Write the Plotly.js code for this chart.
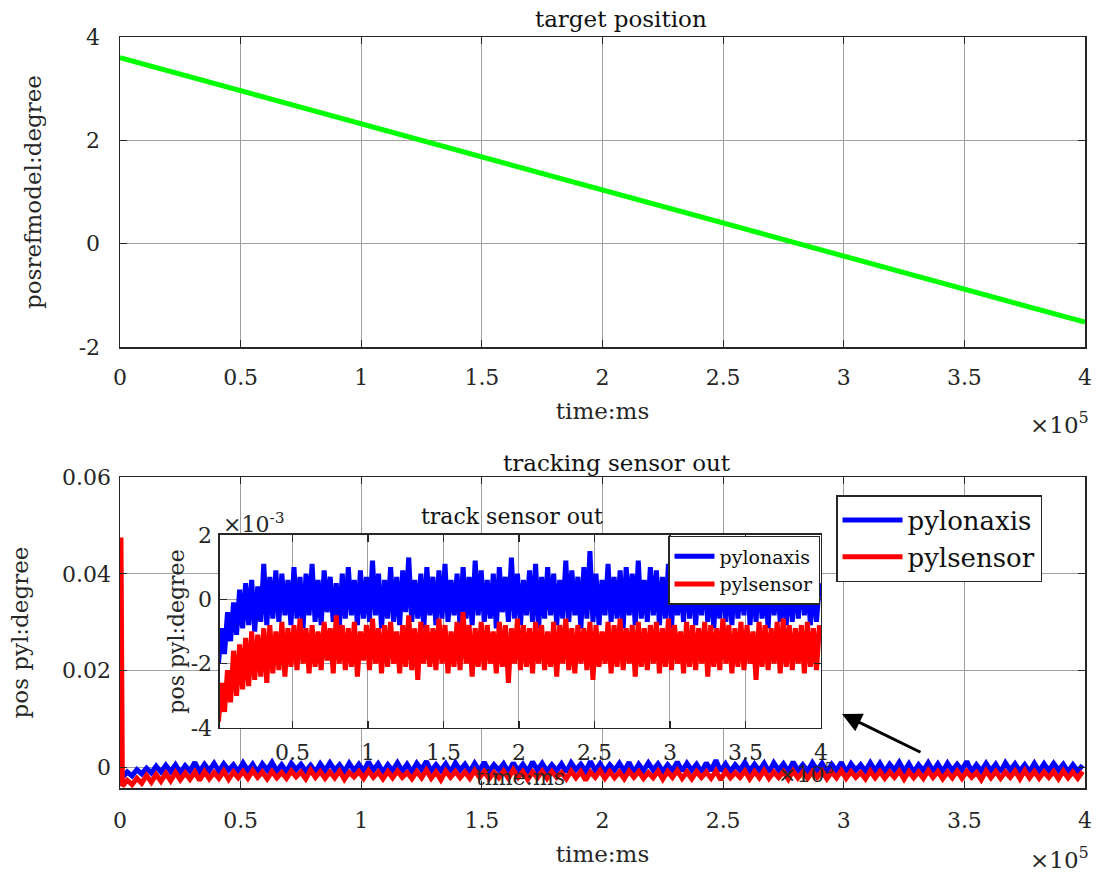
<!DOCTYPE html>
<html>
<head>
<meta charset="utf-8">
<script src="https://cdn.plot.ly/plotly-3.0.1.min.js"></script>
<style>html,body{margin:0;padding:0;background:#fff;}#chart{width:1096px;height:877px;}</style>
</head>
<body>
<div id="chart"></div>
<script>
// time in units of 1e5 ms
const timeE5 = [
0.01,0.03,0.05,0.07,0.09,0.11,0.13,0.15,0.17,0.19,
0.21,0.23,0.25,0.27,0.29,0.31,0.33,0.35,0.37,0.39,
0.41,0.43,0.45,0.47,0.49,0.51,0.53,0.55,0.57,0.59,
0.61,0.63,0.65,0.67,0.69,0.71,0.73,0.75,0.77,0.79,
0.81,0.83,0.85,0.87,0.89,0.91,0.93,0.95,0.97,0.99,
1.01,1.03,1.05,1.07,1.09,1.11,1.13,1.15,1.17,1.19,
1.21,1.23,1.25,1.27,1.29,1.31,1.33,1.35,1.37,1.39,
1.41,1.43,1.45,1.47,1.49,1.51,1.53,1.55,1.57,1.59,
1.61,1.63,1.65,1.67,1.69,1.71,1.73,1.75,1.77,1.79,
1.81,1.83,1.85,1.87,1.89,1.91,1.93,1.95,1.97,1.99,
2.01,2.03,2.05,2.07,2.09,2.11,2.13,2.15,2.17,2.19,
2.21,2.23,2.25,2.27,2.29,2.31,2.33,2.35,2.37,2.39,
2.41,2.43,2.45,2.47,2.49,2.51,2.53,2.55,2.57,2.59,
2.61,2.63,2.65,2.67,2.69,2.71,2.73,2.75,2.77,2.79,
2.81,2.83,2.85,2.87,2.89,2.91,2.93,2.95,2.97,2.99,
3.01,3.03,3.05,3.07,3.09,3.11,3.13,3.15,3.17,3.19,
3.21,3.23,3.25,3.27,3.29,3.31,3.33,3.35,3.37,3.39,
3.41,3.43,3.45,3.47,3.49,3.51,3.53,3.55,3.57,3.59,
3.61,3.63,3.65,3.67,3.69,3.71,3.73,3.75,3.77,3.79,
3.81,3.83,3.85,3.87,3.89,3.91,3.93,3.95,3.97,3.99
];
// pylonaxis, units of 1e-3 degree
const pylonaxis = [
-2.0,-0.9,-1.7,-0.4,-1.3,-0.1,-1.1,0.3,-0.9,0.5,
-0.8,0.6,-1.0,0.4,-0.7,1.1,-0.8,0.7,-0.6,0.9,
-0.7,0.8,-0.5,0.6,-0.8,1.0,-0.6,0.7,-0.9,0.8,
-0.5,1.1,-0.7,0.6,-0.8,0.9,-0.4,0.7,-0.7,0.5,
-0.9,0.8,-0.6,1.0,-0.5,0.6,-0.8,0.9,-0.6,0.7,
-0.7,1.2,-0.5,0.8,-0.9,0.6,-0.6,1.0,-0.7,0.7,
-0.8,0.9,-0.4,1.3,-0.7,0.6,-0.6,0.8,-0.9,1.0,
-0.5,0.7,-0.8,0.9,-0.6,1.1,-0.7,0.6,-0.5,0.8,
-0.9,1.0,-0.6,0.7,-0.8,1.2,-0.5,0.9,-0.7,0.6,
-0.6,0.8,-0.9,1.0,-0.4,0.7,-0.7,1.3,-0.6,0.8,
-0.8,0.6,-0.5,0.9,-0.7,1.1,-0.9,0.7,-0.6,1.0,
-0.5,0.8,-0.8,0.6,-0.6,1.2,-0.7,0.9,-0.5,0.7,
-0.9,1.0,-0.6,1.5,-0.7,0.8,-0.8,0.6,-0.5,1.1,
-0.7,0.7,-0.6,0.9,-0.9,1.0,-0.5,0.8,-0.8,1.2,
-0.6,0.6,-0.7,1.0,-0.5,0.9,-0.8,0.7,-0.6,1.1,
-0.9,0.8,-0.5,0.6,-0.7,1.0,-0.6,0.9,-0.8,0.7,
-0.5,1.1,-0.7,0.8,-0.9,0.6,-0.6,1.0,-0.7,0.8,
-0.8,0.9,-0.6,0.7,-0.5,1.3,-0.8,0.6,-0.7,0.9,
-0.6,0.7,-0.9,1.0,-0.5,0.8,-0.7,0.6,-0.8,0.9,
-0.7,0.8,-0.6,0.9,-0.5,0.7,-0.8,0.6,-0.7,0.5
];
// pylsensor, units of 1e-3 degree
const pylsensor = [
-3.8,-2.6,-3.5,-2.2,-3.2,-1.6,-3.0,-1.4,-2.8,-1.2,
-2.7,-1.0,-2.5,-1.1,-2.4,-0.9,-2.6,-0.8,-2.3,-1.0,
-2.2,-0.7,-2.4,-0.9,-2.1,-0.8,-2.2,-0.6,-2.0,-0.9,
-2.3,-0.8,-2.1,-1.0,-2.2,-0.7,-1.9,-0.9,-2.3,-0.5,
-2.0,-0.8,-2.2,-0.9,-2.1,-0.7,-2.4,-1.0,-1.9,-0.8,
-2.2,-0.6,-2.0,-0.9,-2.3,-0.8,-2.1,-0.7,-2.0,-1.0,
-2.3,-0.8,-2.1,-0.5,-2.2,-0.9,-2.5,-0.7,-2.0,-0.8,
-2.1,-0.9,-2.2,-0.6,-2.0,-0.8,-2.3,-1.0,-2.1,-0.7,
-2.2,-0.4,-2.0,-0.8,-2.4,-0.9,-2.1,-0.7,-2.2,-0.8,
-2.0,-1.0,-2.3,-0.7,-2.1,-0.8,-2.6,-0.9,-2.0,-0.6,
-2.2,-0.8,-2.1,-0.9,-2.3,-0.7,-2.0,-0.8,-2.2,-1.0,
-2.1,-0.7,-2.4,-0.8,-2.0,-0.6,-2.2,-0.9,-2.3,-0.8,
-2.0,-0.9,-2.2,-0.7,-2.5,-0.8,-2.1,-1.0,-2.0,-0.7,
-2.3,-0.8,-2.1,-0.6,-2.2,-0.9,-2.0,-0.8,-2.4,-0.7,
-2.1,-0.9,-2.2,-0.8,-2.0,-0.7,-2.3,-0.9,-2.1,-0.6,
-2.2,-0.8,-2.0,-1.0,-2.3,-0.7,-2.1,-0.8,-2.2,-0.9,
-2.0,-0.7,-2.4,-0.8,-2.1,-0.9,-2.2,-0.6,-2.0,-0.8,
-2.3,-0.9,-2.1,-0.7,-2.2,-0.8,-2.0,-1.0,-2.5,-0.7,
-2.1,-0.8,-2.2,-0.9,-2.0,-0.7,-2.3,-0.6,-2.1,-0.8,
-2.2,-0.9,-2.0,-0.8,-2.3,-0.7,-2.1,-0.9,-2.2,-0.8
];
// initial transient of pylsensor (before the steady record), units of 1e-3 degree
const spikeTime = [0.004, 0.007];
const spikeSensor = [47.5, 22.0];
// target position
const refTime = [0, 4];
const posRef = [3.6, -1.52];
// tick labels (hyphen minus as in the reference)
const refTickVals = [-2, 0, 2, 4];
const refTickText = ['-2', '0', '2', '4'];
const insetTickVals = [-4, -2, 0, 2];
const insetTickText = ['-4', '-2', '0', '2'];

const FONT = 'DejaVu Serif, serif';
const AX = '#262626';
const GRID = '#a0a0a0';

function axisBase(extra) {
  return Object.assign({
    showline: true, linecolor: AX, linewidth: 1.5, mirror: 'ticks',
    ticks: 'inside', ticklen: 7, tickcolor: AX, tickwidth: 1.2,
    showgrid: true, gridcolor: GRID, gridwidth: 1, zeroline: false,
    tickfont: {family: FONT, size: 22, color: '#262626'},
    automargin: false
  }, extra);
}

const toDeg = v => v / 1000;

const traces = [
  {x: refTime, y: posRef, xaxis: 'x', yaxis: 'y', mode: 'lines',
   line: {color: '#00ff00', width: 5}, showlegend: false, name: 'posrefmodel'},
  {x: timeE5, y: pylonaxis.map(toDeg), xaxis: 'x2', yaxis: 'y2', mode: 'lines',
   line: {color: '#0000ff', width: 5, simplify: false}, name: 'pylonaxis', legend: 'legend'},
  {x: spikeTime.concat(timeE5), y: spikeSensor.concat(pylsensor).map(toDeg), xaxis: 'x2', yaxis: 'y2', mode: 'lines',
   line: {color: '#ff0000', width: 5, simplify: false}, name: 'pylsensor', legend: 'legend'},
  {x: timeE5, y: pylonaxis, xaxis: 'x3', yaxis: 'y3', mode: 'lines',
   line: {color: '#0000ff', width: 5, simplify: false}, name: 'pylonaxis', legend: 'legend2'},
  {x: timeE5, y: pylsensor, xaxis: 'x3', yaxis: 'y3', mode: 'lines',
   line: {color: '#ff0000', width: 5, simplify: false}, name: 'pylsensor', legend: 'legend2'}
];

const layout = {
  width: 1096, height: 877,
  margin: {l: 120, r: 11, t: 37, b: 89},
  paper_bgcolor: '#ffffff', plot_bgcolor: '#ffffff',
  font: {family: FONT, color: '#262626'},
  title: {text: 'target position', font: {family: FONT, size: 23, color: '#111'},
          xref: 'paper', x: 0.519, xanchor: 'center', yref: 'container', y: 0.978, yanchor: 'middle'},
  xaxis: axisBase({domain: [0, 1], anchor: 'y', range: [0, 4], dtick: 0.5, tick0: 0,
    ticklabelstandoff: 10,
    title: {text: 'time:ms', font: {family: FONT, size: 23, color: '#262626'}, standoff: 14}}),
  yaxis: axisBase({domain: [0.5872, 1], anchor: 'x', range: [-2, 4],
    tickmode: 'array', tickvals: refTickVals, ticktext: refTickText,
    ticklabelstandoff: 14,
    title: {text: 'posrefmodel:degree', font: {family: FONT, size: 23, color: '#262626'}, standoff: 30}}),
  xaxis2: axisBase({domain: [0, 1], anchor: 'y2', range: [0, 4], dtick: 0.5, tick0: 0,
    ticklabelstandoff: 12,
    title: {text: 'time:ms', font: {family: FONT, size: 23, color: '#262626'}, standoff: 14}}),
  yaxis2: axisBase({domain: [0, 0.4141], anchor: 'x2', range: [-0.0042, 0.06], dtick: 0.02, tick0: 0,
    ticklabelstandoff: 3,
    title: {text: 'pos pyl:degree', font: {family: FONT, size: 23, color: '#262626'}, standoff: 27}}),
  xaxis3: axisBase({domain: [0.1036, 0.7264], anchor: 'y3', range: [0.02, 4], dtick: 0.5, tick0: 0,
    ticklabelstandoff: 4,
    title: {text: 'time:ms', font: {family: FONT, size: 22, color: '#262626'}, standoff: 4}}),
  yaxis3: axisBase({domain: [0.0799, 0.3369], anchor: 'x3', range: [-4, 2],
    tickmode: 'array', tickvals: insetTickVals, ticktext: insetTickText,
    ticklabelstandoff: 2,
    title: {text: 'pos pyl:degree', font: {family: FONT, size: 22, color: '#262626'}, standoff: 0}}),
  legend: {x: 0.742, xanchor: 'left', y: 0.390, yanchor: 'top',
    bgcolor: '#ffffff', bordercolor: '#262626', borderwidth: 1.5,
    font: {family: FONT, size: 26, color: '#111'}, itemwidth: 60, tracegroupgap: 0},
  legend2: {x: 0.7254, xanchor: 'right', y: 0.3356, yanchor: 'top',
    bgcolor: '#ffffff', bordercolor: '#262626', borderwidth: 1.5,
    font: {family: FONT, size: 19, color: '#111'}, itemwidth: 40, tracegroupgap: 0},
  annotations: [
    {text: 'tracking sensor out', xref: 'paper', yref: 'paper', x: 0.515, y: 0.4328,
     xanchor: 'center', yanchor: 'middle', showarrow: false, font: {family: FONT, size: 23, color: '#111'}},
    {text: 'track sensor out', xref: 'paper', yref: 'paper', x: 0.4062, y: 0.3609,
     xanchor: 'center', yanchor: 'middle', showarrow: false, font: {family: FONT, size: 22, color: '#111'}},
    {text: '×10<sup>5</sup>', xref: 'paper', yref: 'paper', x: 1.006, y: 0.486,
     xanchor: 'right', yanchor: 'middle', showarrow: false, font: {family: FONT, size: 23, color: '#262626'}},
    {text: '×10<sup>5</sup>', xref: 'paper', yref: 'paper', x: 1.006, y: -0.093,
     xanchor: 'right', yanchor: 'middle', showarrow: false, font: {family: FONT, size: 23, color: '#262626'}},
    {text: '×10<sup>-3</sup>', xref: 'paper', yref: 'paper', x: 0.1047, y: 0.3529,
     xanchor: 'left', yanchor: 'middle', showarrow: false, font: {family: FONT, size: 22, color: '#262626'}},
    {text: '×10<sup>5</sup>', xref: 'paper', yref: 'paper', x: 0.742, y: 0.02,
     xanchor: 'right', yanchor: 'middle', showarrow: false, font: {family: FONT, size: 22, color: '#262626'}},
    {text: '', xref: 'paper', yref: 'paper', x: (842 - 120) / 965, y: (788 - 714) / 751,
     ax: 80, ay: 39, axref: 'pixel', ayref: 'pixel', showarrow: true,
     arrowhead: 2, arrowsize: 1.3, arrowwidth: 3, arrowcolor: '#000000'}
  ]
};

Plotly.newPlot('chart', traces, layout, {staticPlot: true, displayModeBar: false});
</script>
</body>
</html>
